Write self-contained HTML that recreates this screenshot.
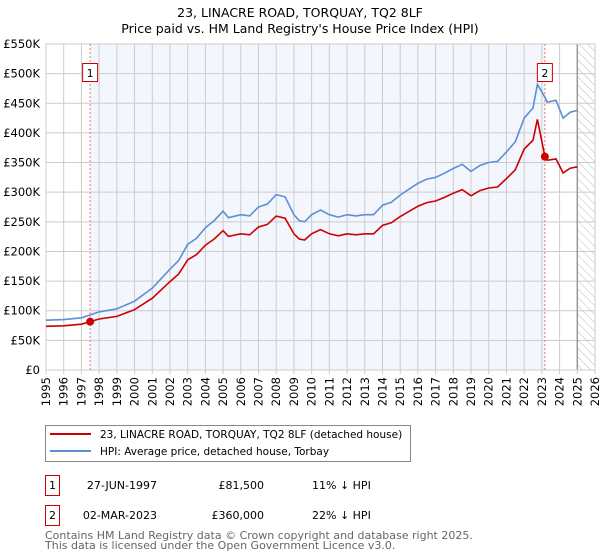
<!DOCTYPE html>
<html><head><meta charset="utf-8"><style>
body{margin:0;background:#fff;}
svg{display:block;font-family:"DejaVu Sans","Liberation Sans",sans-serif;}
</style></head><body>
<svg id="chart" width="600" height="560" viewBox="0 0 600 560">
<text x="300" y="17" text-anchor="middle" font-size="12.5">23, LINACRE ROAD, TORQUAY, TQ2 8LF</text>
<text x="300" y="33" text-anchor="middle" font-size="12.5">Price paid vs. HM Land Registry's House Price Index (HPI)</text>
<defs><pattern id="hatch" width="6" height="6" patternUnits="userSpaceOnUse" patternTransform="rotate(-45)"><line x1="0" y1="0" x2="0" y2="6" stroke="#bbb" stroke-width="1"/></pattern></defs>
<g id="plot"></g>
<g>
<rect x="45.5" y="425.5" width="365" height="36" fill="#fff" stroke="#888"/>
<line x1="50" y1="434" x2="91" y2="434" stroke="#cc0000" stroke-width="2"/>
<text x="100" y="438" font-size="10.5">23, LINACRE ROAD, TORQUAY, TQ2 8LF (detached house)</text>
<line x1="50" y1="451" x2="91" y2="451" stroke="#5b8fd6" stroke-width="2"/>
<text x="100" y="455" font-size="10.5">HPI: Average price, detached house, Torbay</text>
</g>
<g font-size="11">
<rect x="45.5" y="475.5" width="14" height="20" fill="#fff" stroke="#cc0000"/>
<text x="52.5" y="489" text-anchor="middle">1</text>
<text x="157" y="489" text-anchor="end">27-JUN-1997</text>
<text x="264" y="489" text-anchor="end">£81,500</text>
<text x="312" y="489">11% ↓ HPI</text>
<rect x="45.5" y="505.5" width="14" height="20" fill="#fff" stroke="#cc0000"/>
<text x="52.5" y="519" text-anchor="middle">2</text>
<text x="157" y="519" text-anchor="end">02-MAR-2023</text>
<text x="264" y="519" text-anchor="end">£360,000</text>
<text x="312" y="519">22% ↓ HPI</text>
</g>
<text x="45" y="539" font-size="11" fill="#666">Contains HM Land Registry data © Crown copyright and database right 2025.</text>
<text x="45" y="549" font-size="11" fill="#666">This data is licensed under the Open Government Licence v3.0.</text>
</svg>
<script>
const yearTicks=[1995,1996,1997,1998,1999,2000,2001,2002,2003,2004,2005,2006,2007,2008,2009,2010,2011,2012,2013,2014,2015,2016,2017,2018,2019,2020,2021,2022,2023,2024,2025,2026];
const priceTicks=[0,50,100,150,200,250,300,350,400,450,500,550];
const priceTickLabels=["£0","£50K","£100K","£150K","£200K","£250K","£300K","£350K","£400K","£450K","£500K","£550K"];
const hpiDates=[1995,1996,1997,1997.5,1998,1999,2000,2001,2002,2002.5,2003,2003.5,2004,2004.5,2005,2005.3,2006,2006.5,2007,2007.5,2008,2008.5,2009,2009.3,2009.6,2010,2010.5,2011,2011.5,2012,2012.5,2013,2013.5,2014,2014.5,2015,2015.5,2016,2016.5,2017,2017.5,2018,2018.5,2019,2019.5,2020,2020.5,2021,2021.5,2022,2022.5,2022.75,2023.17,2023.3,2023.8,2024.2,2024.6,2025];
const hpiValues=[84,85,88,93,98,103,116,138,170,185,212,222,240,252,268,257,262,260,275,280,296,292,262,252,250,262,270,262,258,262,260,262,262,278,283,295,305,315,322,325,332,340,347,335,345,350,352,368,385,425,442,482,460,452,455,425,435,438];
const saleDates=[1997.49,2023.17];
const salePrices=[81.5,360];
const saleLabels=["1","2"];
const X0=46,X1=595,Y0=370,Y1=44;
const x=d=>X0+(d-1995)/(2026-1995)*(X1-X0);
const y=v=>Y0-v/550*(Y0-Y1);
const ns="http://www.w3.org/2000/svg";
const g=document.getElementById('plot');
function mk(t,a,p){const e=document.createElementNS(ns,t);for(const k in a)e.setAttribute(k,a[k]);(p||g).appendChild(e);return e;}
let bg=mk('rect',{x:X0,y:Y1,width:X1-X0,height:Y0-Y1,fill:'#fff'});


let sh=mk('rect',{x:x(saleDates[0]),y:Y1,width:x(saleDates[1])-x(saleDates[0]),height:Y0-Y1,fill:'#f3f6fd'});


let ht=mk('rect',{x:x(2025),y:Y1,width:X1-x(2025),height:Y0-Y1,fill:'url(#hatch)'});


yearTicks.forEach(t=>{let l=mk('line',{x1:x(t),x2:x(t),y1:Y1,y2:Y0+4,stroke:'#ccc'});


let tx=mk('text',{x:0,y:0,'font-size':11.5,'text-anchor':'end',transform:`translate(${x(t)+4},${Y0+7}) rotate(-90)`});tx.textContent=t;

});
priceTicks.forEach((t,i)=>{let l=mk('line',{x1:X0,x2:X1,y1:y(t),y2:y(t),stroke:'#ccc'});


let tx=mk('text',{x:40,y:y(t)+4,'font-size':11.5,'text-anchor':'end'});tx.textContent=priceTickLabels[i];

});
let vl=mk('line',{x1:x(2025),x2:x(2025),y1:Y1,y2:Y0,stroke:'#999','stroke-width':1.5});


let fr=mk('rect',{x:X0,y:Y1,width:X1-X0,height:Y0-Y1,fill:'none',stroke:'#ccc'});


function hpiAt(d){for(let i=0;i<hpiDates.length-1;i++){if(d<=hpiDates[i+1]){const f=(d-hpiDates[i])/(hpiDates[i+1]-hpiDates[i]);return hpiValues[i]+f*(hpiValues[i+1]-hpiValues[i]);}}return hpiValues[hpiValues.length-1];}
const f1=salePrices[0]/hpiAt(saleDates[0]),f2=salePrices[1]/hpiAt(saleDates[1]);
saleDates.forEach((d,i)=>{let l=mk('line',{x1:x(d),x2:x(d),y1:Y1,y2:Y0,stroke:'#f07070','stroke-dasharray':'2,2'});


let r=mk('rect',{x:x(d)-7.5,y:63.5,width:15,height:18,fill:'#fff',stroke:'#cc0000'});


let t=mk('text',{x:x(d),y:77,'font-size':11,'text-anchor':'middle'});t.textContent=saleLabels[i];

});
let hp=hpiDates.map((d,i)=>(i?'L':'M')+x(d).toFixed(1)+','+y(hpiValues[i]).toFixed(1)).join(' ');
let hl=mk('path',{d:hp,fill:'none',stroke:'#5b8fd6','stroke-width':1.6});


let pts=[];hpiDates.forEach((d,i)=>{if(d<saleDates[1])pts.push([d,hpiValues[i]*f1]);});
pts.push([saleDates[1],salePrices[1]]);
hpiDates.forEach((d,i)=>{if(d>saleDates[1])pts.push([d,hpiValues[i]*f2]);});
let pp=pts.map((p,i)=>(i?'L':'M')+x(p[0]).toFixed(1)+','+y(p[1]).toFixed(1)).join(' ');
let pl=mk('path',{d:pp,fill:'none',stroke:'#cc0000','stroke-width':1.6});


saleDates.forEach((d,i)=>{let c=mk('circle',{cx:x(d),cy:y(salePrices[i]),r:4,fill:'#cc0000'});

});
</script>
</body></html>
